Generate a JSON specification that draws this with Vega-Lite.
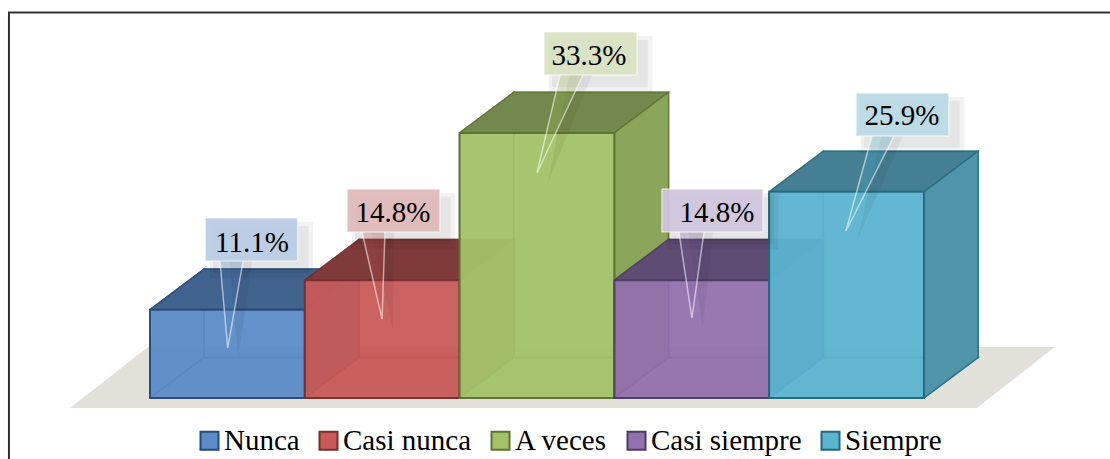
{"$schema":"https://vega.github.io/schema/vega-lite/v6.json","width":1110,"height":459,"padding":0,"autosize":{"type":"none"},"background":"white","config":{"view":{"stroke":null},"legend":{"labelFont":"Liberation Serif","labelFontSize":29,"labelColor":"#000000","labelOffset":0,"columnPadding":14,"labelLimit":300,"symbolType":"square","symbolSize":324,"symbolStrokeWidth":2,"symbolOpacity":1}},
"datasets":{
"barras":[{"Categoria":"Nunca","x0":0,"x1":1,"Porcentaje":11.1,"etiqueta":"11.1%","ex":0.659,"ey":18.34},{"Categoria":"Casi nunca","x0":1,"x1":2,"Porcentaje":14.8,"etiqueta":"14.8%","ex":1.57,"ey":22.11},{"Categoria":"A veces","x0":2,"x1":3,"Porcentaje":33.3,"etiqueta":"33.3%","ex":2.836,"ey":41.83},{"Categoria":"Casi siempre","x0":3,"x1":4,"Porcentaje":14.8,"etiqueta":"14.8%","ex":3.663,"ey":22.11},{"Categoria":"Siempre","x0":4,"x1":5,"Porcentaje":25.9,"etiqueta":"25.9%","ex":4.858,"ey":34.3}],
"marco":[{"n":1,"x":-0.911,"y":-7.663},{"n":2,"x":-0.911,"y":48.43},{"n":3,"x":6.202,"y":48.43}],
"suelo":[{"n":1,"x":-0.517,"y":-1.256},{"n":2,"x":5.342,"y":-1.256},{"n":3,"x":5.846,"y":6.407},{"n":4,"x":-0.013,"y":6.407}],
"caras":[
{"poly":"Nunca|bottom","Categoria":"Nunca","n":1,"x":0,"y":0},{"poly":"Nunca|bottom","Categoria":"Nunca","n":2,"x":1,"y":0},{"poly":"Nunca|bottom","Categoria":"Nunca","n":3,"x":1.35,"y":5.1},{"poly":"Nunca|bottom","Categoria":"Nunca","n":4,"x":0.35,"y":5.1},{"poly":"Nunca|bottom","Categoria":"Nunca","n":5,"x":0,"y":0},
{"poly":"Nunca|back","Categoria":"Nunca","n":1,"x":0.35,"y":5.1},{"poly":"Nunca|back","Categoria":"Nunca","n":2,"x":1.35,"y":5.1},{"poly":"Nunca|back","Categoria":"Nunca","n":3,"x":1.35,"y":16.2},{"poly":"Nunca|back","Categoria":"Nunca","n":4,"x":0.35,"y":16.2},{"poly":"Nunca|back","Categoria":"Nunca","n":5,"x":0.35,"y":5.1},
{"poly":"Nunca|left","Categoria":"Nunca","n":1,"x":0,"y":0},{"poly":"Nunca|left","Categoria":"Nunca","n":2,"x":0.35,"y":5.1},{"poly":"Nunca|left","Categoria":"Nunca","n":3,"x":0.35,"y":16.2},{"poly":"Nunca|left","Categoria":"Nunca","n":4,"x":0,"y":11.1},{"poly":"Nunca|left","Categoria":"Nunca","n":5,"x":0,"y":0},
{"poly":"Nunca|top","Categoria":"Nunca","n":1,"x":0,"y":11.1},{"poly":"Nunca|top","Categoria":"Nunca","n":2,"x":1,"y":11.1},{"poly":"Nunca|top","Categoria":"Nunca","n":3,"x":1.35,"y":16.2},{"poly":"Nunca|top","Categoria":"Nunca","n":4,"x":0.35,"y":16.2},{"poly":"Nunca|top","Categoria":"Nunca","n":5,"x":0,"y":11.1},
{"poly":"Nunca|right","Categoria":"Nunca","n":1,"x":1,"y":0},{"poly":"Nunca|right","Categoria":"Nunca","n":2,"x":1.35,"y":5.1},{"poly":"Nunca|right","Categoria":"Nunca","n":3,"x":1.35,"y":16.2},{"poly":"Nunca|right","Categoria":"Nunca","n":4,"x":1,"y":11.1},{"poly":"Nunca|right","Categoria":"Nunca","n":5,"x":1,"y":0},
{"poly":"Casi nunca|bottom","Categoria":"Casi nunca","n":1,"x":1,"y":0},{"poly":"Casi nunca|bottom","Categoria":"Casi nunca","n":2,"x":2,"y":0},{"poly":"Casi nunca|bottom","Categoria":"Casi nunca","n":3,"x":2.35,"y":5.1},{"poly":"Casi nunca|bottom","Categoria":"Casi nunca","n":4,"x":1.35,"y":5.1},{"poly":"Casi nunca|bottom","Categoria":"Casi nunca","n":5,"x":1,"y":0},
{"poly":"Casi nunca|back","Categoria":"Casi nunca","n":1,"x":1.35,"y":5.1},{"poly":"Casi nunca|back","Categoria":"Casi nunca","n":2,"x":2.35,"y":5.1},{"poly":"Casi nunca|back","Categoria":"Casi nunca","n":3,"x":2.35,"y":19.9},{"poly":"Casi nunca|back","Categoria":"Casi nunca","n":4,"x":1.35,"y":19.9},{"poly":"Casi nunca|back","Categoria":"Casi nunca","n":5,"x":1.35,"y":5.1},
{"poly":"Casi nunca|left","Categoria":"Casi nunca","n":1,"x":1,"y":0},{"poly":"Casi nunca|left","Categoria":"Casi nunca","n":2,"x":1.35,"y":5.1},{"poly":"Casi nunca|left","Categoria":"Casi nunca","n":3,"x":1.35,"y":19.9},{"poly":"Casi nunca|left","Categoria":"Casi nunca","n":4,"x":1,"y":14.8},{"poly":"Casi nunca|left","Categoria":"Casi nunca","n":5,"x":1,"y":0},
{"poly":"Casi nunca|top","Categoria":"Casi nunca","n":1,"x":1,"y":14.8},{"poly":"Casi nunca|top","Categoria":"Casi nunca","n":2,"x":2,"y":14.8},{"poly":"Casi nunca|top","Categoria":"Casi nunca","n":3,"x":2.35,"y":19.9},{"poly":"Casi nunca|top","Categoria":"Casi nunca","n":4,"x":1.35,"y":19.9},{"poly":"Casi nunca|top","Categoria":"Casi nunca","n":5,"x":1,"y":14.8},
{"poly":"Casi nunca|right","Categoria":"Casi nunca","n":1,"x":2,"y":0},{"poly":"Casi nunca|right","Categoria":"Casi nunca","n":2,"x":2.35,"y":5.1},{"poly":"Casi nunca|right","Categoria":"Casi nunca","n":3,"x":2.35,"y":19.9},{"poly":"Casi nunca|right","Categoria":"Casi nunca","n":4,"x":2,"y":14.8},{"poly":"Casi nunca|right","Categoria":"Casi nunca","n":5,"x":2,"y":0},
{"poly":"A veces|bottom","Categoria":"A veces","n":1,"x":2,"y":0},{"poly":"A veces|bottom","Categoria":"A veces","n":2,"x":3,"y":0},{"poly":"A veces|bottom","Categoria":"A veces","n":3,"x":3.35,"y":5.1},{"poly":"A veces|bottom","Categoria":"A veces","n":4,"x":2.35,"y":5.1},{"poly":"A veces|bottom","Categoria":"A veces","n":5,"x":2,"y":0},
{"poly":"A veces|back","Categoria":"A veces","n":1,"x":2.35,"y":5.1},{"poly":"A veces|back","Categoria":"A veces","n":2,"x":3.35,"y":5.1},{"poly":"A veces|back","Categoria":"A veces","n":3,"x":3.35,"y":38.4},{"poly":"A veces|back","Categoria":"A veces","n":4,"x":2.35,"y":38.4},{"poly":"A veces|back","Categoria":"A veces","n":5,"x":2.35,"y":5.1},
{"poly":"A veces|left","Categoria":"A veces","n":1,"x":2,"y":0},{"poly":"A veces|left","Categoria":"A veces","n":2,"x":2.35,"y":5.1},{"poly":"A veces|left","Categoria":"A veces","n":3,"x":2.35,"y":38.4},{"poly":"A veces|left","Categoria":"A veces","n":4,"x":2,"y":33.3},{"poly":"A veces|left","Categoria":"A veces","n":5,"x":2,"y":0},
{"poly":"A veces|top","Categoria":"A veces","n":1,"x":2,"y":33.3},{"poly":"A veces|top","Categoria":"A veces","n":2,"x":3,"y":33.3},{"poly":"A veces|top","Categoria":"A veces","n":3,"x":3.35,"y":38.4},{"poly":"A veces|top","Categoria":"A veces","n":4,"x":2.35,"y":38.4},{"poly":"A veces|top","Categoria":"A veces","n":5,"x":2,"y":33.3},
{"poly":"A veces|right","Categoria":"A veces","n":1,"x":3,"y":0},{"poly":"A veces|right","Categoria":"A veces","n":2,"x":3.35,"y":5.1},{"poly":"A veces|right","Categoria":"A veces","n":3,"x":3.35,"y":38.4},{"poly":"A veces|right","Categoria":"A veces","n":4,"x":3,"y":33.3},{"poly":"A veces|right","Categoria":"A veces","n":5,"x":3,"y":0},
{"poly":"Casi siempre|bottom","Categoria":"Casi siempre","n":1,"x":3,"y":0},{"poly":"Casi siempre|bottom","Categoria":"Casi siempre","n":2,"x":4,"y":0},{"poly":"Casi siempre|bottom","Categoria":"Casi siempre","n":3,"x":4.35,"y":5.1},{"poly":"Casi siempre|bottom","Categoria":"Casi siempre","n":4,"x":3.35,"y":5.1},{"poly":"Casi siempre|bottom","Categoria":"Casi siempre","n":5,"x":3,"y":0},
{"poly":"Casi siempre|back","Categoria":"Casi siempre","n":1,"x":3.35,"y":5.1},{"poly":"Casi siempre|back","Categoria":"Casi siempre","n":2,"x":4.35,"y":5.1},{"poly":"Casi siempre|back","Categoria":"Casi siempre","n":3,"x":4.35,"y":19.9},{"poly":"Casi siempre|back","Categoria":"Casi siempre","n":4,"x":3.35,"y":19.9},{"poly":"Casi siempre|back","Categoria":"Casi siempre","n":5,"x":3.35,"y":5.1},
{"poly":"Casi siempre|left","Categoria":"Casi siempre","n":1,"x":3,"y":0},{"poly":"Casi siempre|left","Categoria":"Casi siempre","n":2,"x":3.35,"y":5.1},{"poly":"Casi siempre|left","Categoria":"Casi siempre","n":3,"x":3.35,"y":19.9},{"poly":"Casi siempre|left","Categoria":"Casi siempre","n":4,"x":3,"y":14.8},{"poly":"Casi siempre|left","Categoria":"Casi siempre","n":5,"x":3,"y":0},
{"poly":"Casi siempre|top","Categoria":"Casi siempre","n":1,"x":3,"y":14.8},{"poly":"Casi siempre|top","Categoria":"Casi siempre","n":2,"x":4,"y":14.8},{"poly":"Casi siempre|top","Categoria":"Casi siempre","n":3,"x":4.35,"y":19.9},{"poly":"Casi siempre|top","Categoria":"Casi siempre","n":4,"x":3.35,"y":19.9},{"poly":"Casi siempre|top","Categoria":"Casi siempre","n":5,"x":3,"y":14.8},
{"poly":"Casi siempre|right","Categoria":"Casi siempre","n":1,"x":4,"y":0},{"poly":"Casi siempre|right","Categoria":"Casi siempre","n":2,"x":4.35,"y":5.1},{"poly":"Casi siempre|right","Categoria":"Casi siempre","n":3,"x":4.35,"y":19.9},{"poly":"Casi siempre|right","Categoria":"Casi siempre","n":4,"x":4,"y":14.8},{"poly":"Casi siempre|right","Categoria":"Casi siempre","n":5,"x":4,"y":0},
{"poly":"Siempre|bottom","Categoria":"Siempre","n":1,"x":4,"y":0},{"poly":"Siempre|bottom","Categoria":"Siempre","n":2,"x":5,"y":0},{"poly":"Siempre|bottom","Categoria":"Siempre","n":3,"x":5.35,"y":5.1},{"poly":"Siempre|bottom","Categoria":"Siempre","n":4,"x":4.35,"y":5.1},{"poly":"Siempre|bottom","Categoria":"Siempre","n":5,"x":4,"y":0},
{"poly":"Siempre|back","Categoria":"Siempre","n":1,"x":4.35,"y":5.1},{"poly":"Siempre|back","Categoria":"Siempre","n":2,"x":5.35,"y":5.1},{"poly":"Siempre|back","Categoria":"Siempre","n":3,"x":5.35,"y":31},{"poly":"Siempre|back","Categoria":"Siempre","n":4,"x":4.35,"y":31},{"poly":"Siempre|back","Categoria":"Siempre","n":5,"x":4.35,"y":5.1},
{"poly":"Siempre|left","Categoria":"Siempre","n":1,"x":4,"y":0},{"poly":"Siempre|left","Categoria":"Siempre","n":2,"x":4.35,"y":5.1},{"poly":"Siempre|left","Categoria":"Siempre","n":3,"x":4.35,"y":31},{"poly":"Siempre|left","Categoria":"Siempre","n":4,"x":4,"y":25.9},{"poly":"Siempre|left","Categoria":"Siempre","n":5,"x":4,"y":0},
{"poly":"Siempre|top","Categoria":"Siempre","n":1,"x":4,"y":25.9},{"poly":"Siempre|top","Categoria":"Siempre","n":2,"x":5,"y":25.9},{"poly":"Siempre|top","Categoria":"Siempre","n":3,"x":5.35,"y":31},{"poly":"Siempre|top","Categoria":"Siempre","n":4,"x":4.35,"y":31},{"poly":"Siempre|top","Categoria":"Siempre","n":5,"x":4,"y":25.9},
{"poly":"Siempre|right","Categoria":"Siempre","n":1,"x":5,"y":0},{"poly":"Siempre|right","Categoria":"Siempre","n":2,"x":5.35,"y":5.1},{"poly":"Siempre|right","Categoria":"Siempre","n":3,"x":5.35,"y":31},{"poly":"Siempre|right","Categoria":"Siempre","n":4,"x":5,"y":25.9},{"poly":"Siempre|right","Categoria":"Siempre","n":5,"x":5,"y":0}
],
"sombras":[
{"poly":"a1","n":1,"x":0.387,"y":22.11},{"poly":"a1","n":2,"x":1.054,"y":22.11},{"poly":"a1","n":3,"x":1.054,"y":15.01},{"poly":"a1","n":4,"x":0.387,"y":15.01},
{"poly":"a2","n":1,"x":0.407,"y":21.61},{"poly":"a2","n":2,"x":1.024,"y":21.61},{"poly":"a2","n":3,"x":1.024,"y":15.71},{"poly":"a2","n":4,"x":0.407,"y":15.71},
{"poly":"a3","n":1,"x":0.512,"y":17.2},{"poly":"a3","n":2,"x":0.661,"y":17.2},{"poly":"a3","n":3,"x":0.57,"y":5},
{"poly":"b1","n":1,"x":1.303,"y":25.76},{"poly":"b1","n":2,"x":1.973,"y":25.76},{"poly":"b1","n":3,"x":1.973,"y":18.65},{"poly":"b1","n":4,"x":1.303,"y":18.65},
{"poly":"b2","n":1,"x":1.323,"y":25.26},{"poly":"b2","n":2,"x":1.943,"y":25.26},{"poly":"b2","n":3,"x":1.943,"y":19.35},{"poly":"b2","n":4,"x":1.323,"y":19.35},
{"poly":"b3","n":1,"x":1.43,"y":20.85},{"poly":"b3","n":2,"x":1.578,"y":20.85},{"poly":"b3","n":3,"x":1.57,"y":8.6},
{"poly":"c1","n":1,"x":2.575,"y":45.48},{"poly":"c1","n":2,"x":3.246,"y":45.48},{"poly":"c1","n":3,"x":3.246,"y":38.38},{"poly":"c1","n":4,"x":2.575,"y":38.38},
{"poly":"c2","n":1,"x":2.595,"y":44.98},{"poly":"c2","n":2,"x":3.216,"y":44.98},{"poly":"c2","n":3,"x":3.216,"y":39.08},{"poly":"c2","n":4,"x":2.595,"y":39.08},
{"poly":"c3","n":1,"x":2.709,"y":40.58},{"poly":"c3","n":2,"x":2.857,"y":40.58},{"poly":"c3","n":3,"x":2.57,"y":27},
{"poly":"d1","n":1,"x":3.337,"y":25.76},{"poly":"d1","n":2,"x":4.06,"y":25.76},{"poly":"d1","n":3,"x":4.06,"y":18.65},{"poly":"d1","n":4,"x":3.337,"y":18.65},
{"poly":"d2","n":1,"x":3.357,"y":25.26},{"poly":"d2","n":2,"x":4.03,"y":25.26},{"poly":"d2","n":3,"x":4.03,"y":19.35},{"poly":"d2","n":4,"x":3.357,"y":19.35},
{"poly":"d3","n":1,"x":3.477,"y":20.85},{"poly":"d3","n":2,"x":3.639,"y":20.85},{"poly":"d3","n":3,"x":3.571,"y":8.8},
{"poly":"e1","n":1,"x":4.591,"y":37.82},{"poly":"e1","n":2,"x":5.261,"y":37.82},{"poly":"e1","n":3,"x":5.261,"y":30.71},{"poly":"e1","n":4,"x":4.591,"y":30.71},
{"poly":"e2","n":1,"x":4.611,"y":37.32},{"poly":"e2","n":2,"x":5.231,"y":37.32},{"poly":"e2","n":3,"x":5.231,"y":31.41},{"poly":"e2","n":4,"x":4.611,"y":31.41},
{"poly":"e3","n":1,"x":4.724,"y":32.91},{"poly":"e3","n":2,"x":4.866,"y":32.91},{"poly":"e3","n":3,"x":4.566,"y":19.7}
],
"globos":[
{"poly":"Nunca|pointer","n":1,"x":0.452,"y":17.21},{"poly":"Nunca|pointer","n":2,"x":0.502,"y":6.28},{"poly":"Nunca|pointer","n":3,"x":0.601,"y":17.21},
{"poly":"Nunca|box","n":1,"x":0.357,"y":22.61},{"poly":"Nunca|box","n":2,"x":0.954,"y":22.61},{"poly":"Nunca|box","n":3,"x":0.954,"y":17.21},{"poly":"Nunca|box","n":4,"x":0.357,"y":17.21},{"poly":"Nunca|box","n":5,"x":0.357,"y":22.61},
{"poly":"Casi nunca|pointer","n":1,"x":1.37,"y":20.85},{"poly":"Casi nunca|pointer","n":2,"x":1.499,"y":9.92},{"poly":"Casi nunca|pointer","n":3,"x":1.518,"y":20.85},
{"poly":"Casi nunca|box","n":1,"x":1.273,"y":26.26},{"poly":"Casi nunca|box","n":2,"x":1.873,"y":26.26},{"poly":"Casi nunca|box","n":3,"x":1.873,"y":20.85},{"poly":"Casi nunca|box","n":4,"x":1.273,"y":20.85},{"poly":"Casi nunca|box","n":5,"x":1.273,"y":26.26},
{"poly":"A veces|pointer","n":1,"x":2.649,"y":40.58},{"poly":"A veces|pointer","n":2,"x":2.5,"y":28.27},{"poly":"A veces|pointer","n":3,"x":2.797,"y":40.58},
{"poly":"A veces|box","n":1,"x":2.545,"y":45.98},{"poly":"A veces|box","n":2,"x":3.146,"y":45.98},{"poly":"A veces|box","n":3,"x":3.146,"y":40.58},{"poly":"A veces|box","n":4,"x":2.545,"y":40.58},{"poly":"A veces|box","n":5,"x":2.545,"y":45.98},
{"poly":"Casi siempre|pointer","n":1,"x":3.417,"y":20.85},{"poly":"Casi siempre|pointer","n":2,"x":3.501,"y":10.05},{"poly":"Casi siempre|pointer","n":3,"x":3.579,"y":20.85},
{"poly":"Casi siempre|box","n":1,"x":3.307,"y":26.26},{"poly":"Casi siempre|box","n":2,"x":3.96,"y":26.26},{"poly":"Casi siempre|box","n":3,"x":3.96,"y":20.85},{"poly":"Casi siempre|box","n":4,"x":3.307,"y":20.85},{"poly":"Casi siempre|box","n":5,"x":3.307,"y":26.26},
{"poly":"Siempre|pointer","n":1,"x":4.664,"y":32.91},{"poly":"Siempre|pointer","n":2,"x":4.496,"y":20.98},{"poly":"Siempre|pointer","n":3,"x":4.806,"y":32.91},
{"poly":"Siempre|box","n":1,"x":4.561,"y":38.32},{"poly":"Siempre|box","n":2,"x":5.161,"y":38.32},{"poly":"Siempre|box","n":3,"x":5.161,"y":32.91},{"poly":"Siempre|box","n":4,"x":4.561,"y":32.91},{"poly":"Siempre|box","n":5,"x":4.561,"y":38.32}
]},
"encoding":{},
"layer":[
{"data":{"name":"marco"},"mark":{"type":"line","stroke":"#333333","strokeWidth":2,"interpolate":"linear"},"encoding":{"x":{"field":"x","type":"quantitative","axis":null,"scale":{"domain":[-0.969,6.202],"nice":false,"zero":false}},"y":{"field":"y","type":"quantitative","axis":null,"scale":{"domain":[-7.663,50],"nice":false,"zero":false}},"order":{"field":"n"}}},
{"data":{"name":"suelo"},"mark":{"type":"line","fill":"#E2E1D9","strokeOpacity":0},"encoding":{"x":{"field":"x","type":"quantitative"},"y":{"field":"y","type":"quantitative"},"order":{"field":"n"}}},
{"data":{"name":"caras"},"mark":{"type":"line","strokeWidth":1.5,"strokeOpacity":0.75},"encoding":{"x":{"field":"x","type":"quantitative"},"y":{"field":"y","type":"quantitative"},"order":{"field":"n"},
"fill":{"field":"poly","type":"nominal","legend":null,"scale":{"domain":["Nunca|bottom","Nunca|back","Nunca|left","Nunca|top","Nunca|right","Nunca|pointer","Nunca|box","Casi nunca|bottom","Casi nunca|back","Casi nunca|left","Casi nunca|top","Casi nunca|right","Casi nunca|pointer","Casi nunca|box","A veces|bottom","A veces|back","A veces|left","A veces|top","A veces|right","A veces|pointer","A veces|box","Casi siempre|bottom","Casi siempre|back","Casi siempre|left","Casi siempre|top","Casi siempre|right","Casi siempre|pointer","Casi siempre|box","Siempre|bottom","Siempre|back","Siempre|left","Siempre|top","Siempre|right","Siempre|pointer","Siempre|box"],
"range":["rgba(79,129,189,0.15)","rgba(79,129,189,0.15)","rgba(79,129,189,0.18)","#41648F","#4A76A8","rgba(79,129,189,0.28)","rgba(184,204,228,0.92)",
"rgba(192,80,77,0.15)","rgba(192,80,77,0.15)","rgba(192,80,77,0.18)","#7F3B3A","#A84E4C","rgba(192,80,77,0.28)","rgba(224,184,184,0.92)",
"rgba(155,187,89,0.15)","rgba(155,187,89,0.15)","rgba(155,187,89,0.18)","#73884D","#8BA65B","rgba(155,187,89,0.28)","rgba(216,226,192,0.92)",
"rgba(128,100,162,0.15)","rgba(128,100,162,0.15)","rgba(128,100,162,0.18)","#5F4C74","#7A5F96","rgba(128,100,162,0.28)","rgba(208,197,221,0.92)",
"rgba(75,172,198,0.15)","rgba(75,172,198,0.15)","rgba(75,172,198,0.18)","#457F93","#5094AA","rgba(75,172,198,0.28)","rgba(184,218,229,0.92)"]}},
"stroke":{"field":"Categoria","type":"nominal","scale":{"domain":["Nunca","Casi nunca","A veces","Casi siempre","Siempre"],"range":["#274A78","#7A2E2C","#5D7331","#4D3B66","#206A80"]}}}},
{"data":{"name":"barras"},"mark":{"type":"bar","strokeWidth":2,"opacity":0.94},"encoding":{"x":{"field":"x0","type":"quantitative"},"x2":{"field":"x1"},"y":{"field":"Porcentaje","type":"quantitative"},"y2":{"datum":0},
"color":{"field":"Categoria","type":"nominal","sort":null,"scale":{"domain":["Nunca","Casi nunca","A veces","Casi siempre","Siempre"],"range":["#5B8CC8","#C75A58","#A3C268","#9470AE","#5CB4D0"]},"legend":{"title":null,"orient":"none","legendX":195,"legendY":426,"direction":"horizontal","columns":5}},
"stroke":{"field":"Categoria","type":"nominal"}}},
{"data":{"name":"sombras"},"mark":{"type":"line","fill":"#000000","fillOpacity":0.05,"strokeOpacity":0},"encoding":{"x":{"field":"x","type":"quantitative"},"y":{"field":"y","type":"quantitative"},"order":{"field":"n"},"detail":{"field":"poly"}}},
{"data":{"name":"globos"},"mark":{"type":"line","stroke":"#FFFFFF","strokeOpacity":0.55,"strokeWidth":1.5},"encoding":{"x":{"field":"x","type":"quantitative"},"y":{"field":"y","type":"quantitative"},"order":{"field":"n"},"fill":{"field":"poly","type":"nominal","legend":null}}},
{"data":{"name":"barras"},"mark":{"type":"text","font":"Liberation Serif","fontSize":29,"color":"#000000","align":"center","baseline":"alphabetic"},"encoding":{"x":{"field":"ex","type":"quantitative"},"y":{"field":"ey","type":"quantitative"},"text":{"field":"etiqueta"}}}
]}
